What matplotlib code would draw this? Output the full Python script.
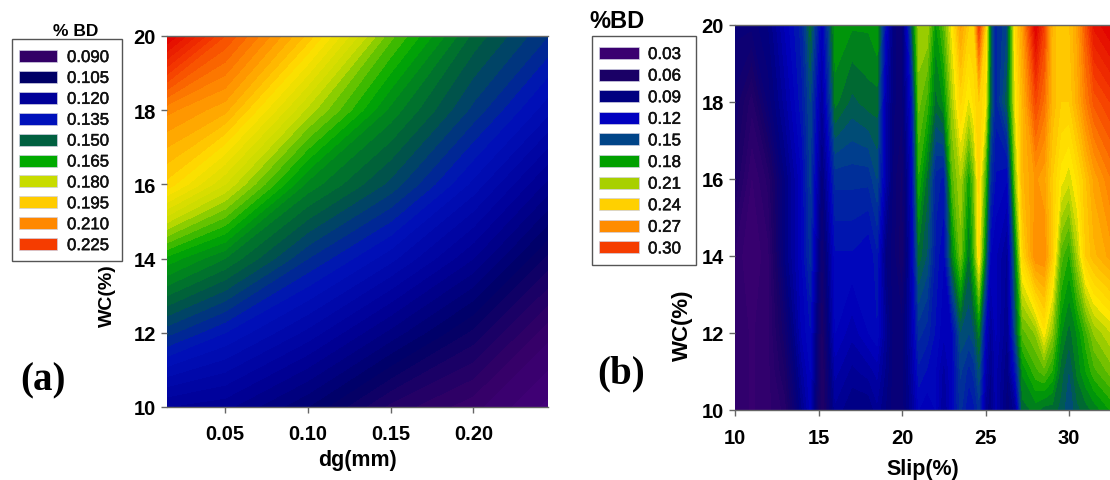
import numpy as np
import matplotlib
matplotlib.use('Agg')
import matplotlib.pyplot as plt
import matplotlib.patheffects as pe
from matplotlib.colors import LinearSegmentedColormap
from matplotlib.patches import Rectangle

plt.rcParams['font.family'] = ['Liberation Sans', 'DejaVu Sans']

W, H = 1110, 481

# panel (a)
dg = [0.015, 0.05, 0.10, 0.15, 0.20, 0.245]
wc_a = [10, 12, 14, 16, 18, 20]
bd_a = [
    [0.120, 0.118, 0.108, 0.095, 0.088, 0.080],
    [0.142, 0.135, 0.125, 0.113, 0.101, 0.088],
    [0.164, 0.156, 0.141, 0.130, 0.117, 0.101],
    [0.197, 0.183, 0.158, 0.146, 0.131, 0.116],
    [0.211, 0.205, 0.179, 0.158, 0.143, 0.130],
    [0.240, 0.222, 0.200, 0.172, 0.152, 0.141],
]
legend_a = ['0.090', '0.105', '0.120', '0.135', '0.150', '0.165', '0.180', '0.195', '0.210', '0.225']
legend_a_colors = ['#330066', '#000066', '#000099', '#0011bb', '#006040', '#00aa00', '#c8dc00', '#ffcc00', '#ff8800', '#f53c00']

# panel (b)
slip = [10, 11, 12, 13, 14, 14.5, 15.2, 16, 17, 18, 18.5, 19, 19.5, 20, 20.6, 21, 21.5, 22, 22.5,
        23, 23.5, 24, 24.3, 24.6, 25, 25.3, 25.6, 26.3, 26.8, 27.2, 28, 28.5, 29, 29.5, 30, 30.5, 31, 31.5, 32.45]
wc_b = [10, 11, 12, 14, 16, 18, 20]
bd_b = [
    [.04, .035, .04, .05, .095, .115, .05, .10, .09, .09, .10, .09, .08, .08, .10, .12, .115, .12, .10,
     .12, .14, .125, .13, .14, .10, .09, .11, .085, .10, .165, .17, .165, .165, .16, .15, .16, .165, .17, .18],
    [.04, .035, .04, .06, .105, .12, .05, .11, .10, .105, .11, .095, .08, .08, .105, .13, .125, .12, .105,
     .12, .145, .135, .14, .155, .11, .095, .11, .09, .13, .175, .19, .195, .185, .165, .155, .17, .18, .19, .20],
    [.04, .035, .04, .07, .115, .125, .055, .12, .11, .12, .125, .10, .08, .08, .11, .14, .135, .125, .115,
     .12, .155, .15, .155, .17, .12, .10, .115, .095, .155, .195, .205, .225, .205, .175, .165, .175, .19, .205, .215],
    [.04, .03, .04, .09, .12, .14, .07, .125, .125, .12, .13, .09, .08, .065, .115, .165, .155, .13, .12,
     .17, .20, .165, .19, .23, .165, .12, .115, .10, .17, .235, .27, .27, .24, .195, .185, .21, .24, .25, .26],
    [.06, .035, .05, .09, .12, .145, .085, .14, .14, .14, .15, .11, .08, .07, .12, .185, .165, .135, .13,
     .195, .21, .18, .20, .235, .19, .14, .125, .12, .205, .25, .265, .26, .24, .225, .218, .23, .245, .26, .275],
    [.07, .05, .08, .105, .13, .15, .10, .17, .16, .165, .165, .11, .085, .08, .13, .20, .19, .165, .175,
     .21, .235, .22, .23, .24, .225, .16, .135, .16, .225, .25, .295, .28, .25, .24, .24, .255, .275, .29, .30],
    [.08, .08, .09, .115, .135, .165, .115, .18, .175, .175, .18, .125, .085, .08, .16, .21, .21, .178, .195,
     .225, .26, .24, .24, .30, .24, .16, .135, .15, .235, .26, .33, .30, .25, .24, .245, .26, .29, .32, .33],
]
legend_b = ['0.03', '0.06', '0.09', '0.12', '0.15', '0.18', '0.21', '0.24', '0.27', '0.30']
legend_b_colors = ['#3a0070', '#1a0066', '#000080', '#0000c0', '#004488', '#00a000', '#a8d000', '#ffd000', '#ff8c00', '#f53c00']

# colour ramps, value -> colour
ramp_a_vals = [0.075, 0.09, 0.105, 0.12, 0.135, 0.15, 0.165, 0.18, 0.195, 0.21, 0.225, 0.24]
ramp_a_cols = ['#4b0082', '#330066', '#000066', '#000099', '#0011bb', '#005a40', '#00aa00', '#c8dc00',
               '#ffe000', '#ff9000', '#f53c00', '#e00000']
ramp_b_vals = [0.0, 0.03, 0.06, 0.09, 0.12, 0.15, 0.165, 0.18, 0.21, 0.225, 0.24, 0.27, 0.30, 0.33]
ramp_b_cols = ['#4b0082', '#3a0070', '#1a0066', '#000080', '#0000c0', '#004488', '#006a30', '#00a000',
               '#a8d000', '#ffe800', '#ffd000', '#ff8c00', '#f53c00', '#e00000']


def make_cmap(vals, cols):
    lo, hi = vals[0], vals[-1]
    pairs = [((v - lo) / (hi - lo), c) for v, c in zip(vals, cols)]
    return LinearSegmentedColormap.from_list('bd', pairs, N=512), lo, hi


def panel(rect, x, y, z, levels, ramp, xticks, xlim, xlabels, xlabel, xlabel_y, ylabel_pos, ylabel_size, pad):
    ax = fig.add_axes([rect[0] / W, 1 - rect[3] / H, (rect[2] - rect[0]) / W, (rect[3] - rect[1]) / H])
    cmap, lo, hi = make_cmap(*ramp)
    ax.contourf(x, y, np.array(z), levels=levels, cmap=cmap, vmin=lo, vmax=hi, extend='both')
    ax.set_xlim(xlim)
    ax.set_ylim(10, 20)
    ax.set_xticks(xticks)
    ax.set_xticklabels(xlabels)
    ax.set_yticks([10, 12, 14, 16, 18, 20])
    for s in ['left', 'right']:
        ax.spines[s].set_visible(False)
    for s in ['top', 'bottom']:
        ax.spines[s].set_color('#666666')
        ax.spines[s].set_linewidth(1.0)
    ax.tick_params(length=4, width=1, color='#666666', labelsize=14.5)
    ax.tick_params(axis='x', pad=pad)
    ax.tick_params(axis='y', pad=4)
    for t in ax.get_xticklabels() + ax.get_yticklabels():
        t.set_fontweight('bold')
    cx = (rect[0] + rect[2]) / 2
    fig.text(cx / W, 1 - xlabel_y / H, xlabel, fontsize=15.5, fontweight='bold', ha='center', va='center')
    fig.text(ylabel_pos[0] / W, 1 - ylabel_pos[1] / H, 'WC(%)', fontsize=ylabel_size, fontweight='bold',
             rotation=90, ha='center', va='center')
    return ax


def key(labels, colors, box, sw_x, text_x, y0, dy, size):
    bx0, by0, bx1, by1 = box
    fig.add_artist(Rectangle((bx0 / W, 1 - by1 / H), (bx1 - bx0) / W, (by1 - by0) / H, transform=fig.transFigure,
                             facecolor='white', edgecolor='#555555', linewidth=1.0))
    for i, (lab, c) in enumerate(zip(labels, colors)):
        yc = y0 + i * dy
        fig.add_artist(Rectangle((sw_x[0] / W, 1 - (yc + 6) / H), (sw_x[1] - sw_x[0]) / W, 12 / H,
                                 transform=fig.transFigure, facecolor=c, edgecolor='#cfcfe0', linewidth=0.5))
        t = fig.text(text_x / W, 1 - (yc + 1.5) / H, lab, fontsize=size, ha='left', va='center', color='#111111')
        t.set_path_effects([pe.withStroke(linewidth=0.35, foreground='#111111')])


fig = plt.figure(figsize=(W / 100, H / 100), dpi=100, facecolor='white')

panel((167, 37, 548, 408), dg, wc_a, bd_a, np.arange(0.078, 0.246, 0.003), (ramp_a_vals, ramp_a_cols),
      [0.05, 0.10, 0.15, 0.20], (0.015, 0.245), ['0.05', '0.10', '0.15', '0.20'], 'dg(mm)', 461, (107, 296), 14, 8)
panel((735, 26, 1110, 411), slip, wc_b, bd_b, np.arange(0.024, 0.336, 0.006), (ramp_b_vals, ramp_b_cols),
      [10, 15, 20, 25, 30], (10, 32.45), ['10', '15', '20', '25', '30'], 'Slip(%)', 470, (682, 325), 16, 9)

key(legend_a, legend_a_colors, (12, 40, 122, 262), (19, 57), 67, 57, 20.9, 12.1)
key(legend_b, legend_b_colors, (592, 37, 696, 266), (599, 639), 648, 54, 21.6, 12.2)

fig.text(76 / W, 1 - 31 / H, '% BD', fontsize=12.5, fontweight='bold', ha='center', va='center')
fig.text(617.5 / W, 1 - 21 / H, '%BD', fontsize=17, fontweight='bold', ha='center', va='center')
fig.text(43 / W, 1 - 381 / H, '(a)', fontsize=28, fontweight='bold', family='Liberation Serif', ha='center', va='center')
fig.text(621 / W, 1 - 374 / H, '(b)', fontsize=28, fontweight='bold', family='Liberation Serif', ha='center', va='center')

fig.savefig('out.png', dpi=100)
